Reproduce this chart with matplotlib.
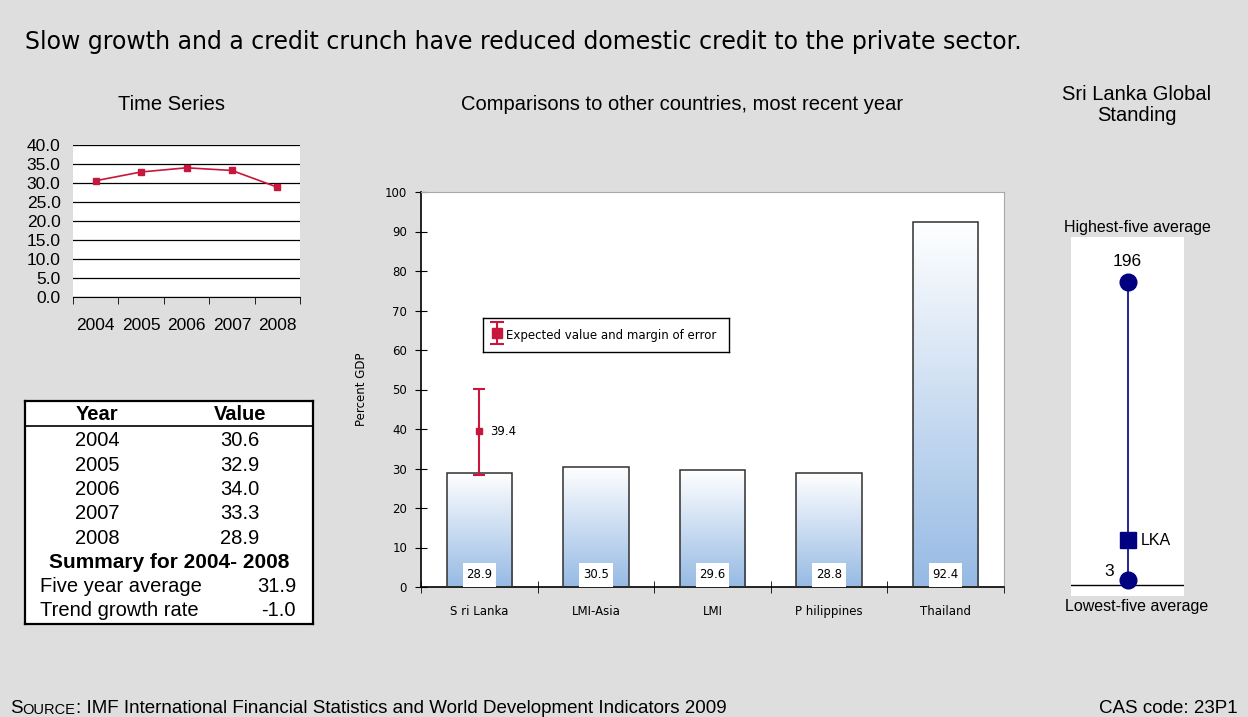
import matplotlib
matplotlib.use("Agg")
import matplotlib.pyplot as plt
import numpy as np

W, H = 1248, 717
BG = "#DEDEDE"
RED = "#C8163C"
NAVY = "#000080"
SANS = ["Liberation Sans", "DejaVu Sans"]
WIDE = ["DejaVu Sans"]

# time series
years = ["2004", "2005", "2006", "2007", "2008"]
series = [30.6, 32.9, 34.0, 33.3, 28.9]
five_year_avg = 31.9
trend_growth = -1.0

# cross-country comparison
countries = ["S ri Lanka", "LMI-Asia", "LMI", "P hilippines", "Thailand"]
country_vals = [28.9, 30.5, 29.6, 28.8, 92.4]
expected_val = 39.4
expected_low, expected_high = 28.4, 50.1

# global standing
top_five_avg = 196
bottom_five_avg = 3
lka_val = 28.9


def px(x0, y0, x1, y1):
    return [x0 / W, 1 - y1 / H, (x1 - x0) / W, (y1 - y0) / H]


fig = plt.figure(figsize=(W / 100, H / 100), dpi=100, facecolor=BG)

fig.text(25 / W, 1 - 42 / H,
         "Slow growth and a credit crunch have reduced domestic credit to the private sector.",
         fontsize=17, family=WIDE, va="center", ha="left")
fig.text(172 / W, 1 - 104 / H, "Time Series", fontsize=14.5, family=SANS, ha="center", va="center")
fig.text(682 / W, 1 - 104 / H, "Comparisons to other countries, most recent year",
         fontsize=14.5, family=SANS, ha="center", va="center")
fig.text(1137 / W, 1 - 105 / H, "Sri Lanka Global\nStanding", fontsize=14.5, family=SANS,
         ha="center", va="center", linespacing=1.1)

# --- time series panel ---
ax1 = fig.add_axes(px(73, 145, 300, 297))
xs = np.arange(len(years))
ax1.plot(xs, series, color=RED, lw=1.2, marker="s", ms=4.5)
ax1.set_xlim(-0.5, len(years) - 0.5)
ax1.set_ylim(0, 40)
yt = np.arange(0, 40.1, 5)
ax1.set_yticks(yt)
ax1.set_yticklabels([f"{v:.1f}" for v in yt], family=SANS, fontsize=12.5)
ax1.yaxis.grid(True, color="black", lw=0.9)
ax1.set_axisbelow(True)
ax1.tick_params(axis="y", length=0, pad=9)
ax1.set_xticks(xs)
ax1.set_xticklabels(years, family=SANS, fontsize=12.5)
ax1.set_xticks(np.arange(-0.5, len(years)), minor=True)
ax1.tick_params(axis="x", which="major", length=0, pad=15)
ax1.tick_params(axis="x", which="minor", length=5, color="black")
for s in ("left", "right", "top"):
    ax1.spines[s].set_visible(False)
ax1.spines["bottom"].set_color("black")

# --- summary table ---
axt = fig.add_axes(px(25, 401, 313, 624))
axt.set_xlim(25, 313)
axt.set_ylim(624, 401)
axt.set_xticks([])
axt.set_yticks([])
for s in axt.spines.values():
    s.set_linewidth(1.6)
    s.set_color("black")
axt.axhline(426, color="black", lw=1.2)
tk = dict(family=SANS, fontsize=14.5, va="center")
axt.text(97, 414, "Year", ha="center", weight="bold", **tk)
axt.text(240, 414, "Value", ha="center", weight="bold", **tk)
for i, (yr, v) in enumerate(zip(years, series)):
    y = 441 + i * 24.3
    axt.text(97, y, yr, ha="center", **tk)
    axt.text(240, y, f"{v:.1f}", ha="center", **tk)
axt.text(169, 562, f"Summary for {years[0]}- {years[-1]}", ha="center", weight="bold",
         family=SANS, fontsize=15, va="center")
axt.text(40, 587, "Five year average", ha="left", **tk)
axt.text(296, 587, f"{five_year_avg:.1f}", ha="right", **tk)
axt.text(40, 611, "Trend growth rate", ha="left", **tk)
axt.text(296, 611, f"{trend_growth:.1f}", ha="right", **tk)

# --- comparison bar chart ---
ax2 = fig.add_axes(px(421, 192, 1004, 587))
cx = np.arange(len(countries))
bw = 0.56
ax2.set_xlim(-0.5, len(countries) - 0.5)
ax2.set_ylim(0, 100)
grad = np.linspace(0, 1, 256).reshape(-1, 1)
cmap = matplotlib.colors.LinearSegmentedColormap.from_list("bar", ["#96BAE4", "#FFFFFF"])
bars = ax2.bar(cx, country_vals, width=bw, facecolor="none", edgecolor="#303030", lw=1.1, zorder=3)
lab_w, lab_h = 0.285, 6.1
for b, v in zip(bars, country_vals):
    im = ax2.imshow(grad, cmap=cmap, origin="lower", aspect="auto", zorder=2,
                    extent=[b.get_x(), b.get_x() + bw, 0, v])
    im.set_clip_path(b)
    mid = b.get_x() + bw / 2
    ax2.add_patch(plt.Rectangle((mid - lab_w / 2, 0), lab_w, lab_h, facecolor="white",
                                edgecolor="none", zorder=4))
    ax2.text(mid, lab_h / 2, f"{v:.1f}", ha="center", va="center", fontsize=8.5,
             family=WIDE, zorder=5)
err_style = dict(fmt="s", color=RED, lw=1.5, capthick=1.5)
ax2.errorbar([cx[0]], [expected_val],
             yerr=[[expected_val - expected_low], [expected_high - expected_val]],
             ms=5, capsize=4, zorder=5, **err_style)
ax2.text(cx[0] + 0.09, expected_val, f"{expected_val:.1f}", fontsize=8.5, family=WIDE,
         va="center", ha="left")
ax2.set_yticks(np.arange(0, 101, 10))
ax2.set_yticklabels([str(v) for v in range(0, 101, 10)], family=WIDE, fontsize=8.5)
ax2.set_xticks(cx)
ax2.set_xticklabels(countries, family=WIDE, fontsize=8.5)
ax2.set_xticks(np.arange(-0.5, len(countries)), minor=True)
ax2.tick_params(axis="x", which="major", length=0, pad=13)
ax2.tick_params(axis="x", which="minor", length=8, direction="inout")
ax2.tick_params(axis="y", length=8, direction="inout", pad=6)
ax2.set_ylabel("Percent GDP", family=WIDE, fontsize=8.5, labelpad=12)
for s in ("top", "right"):
    ax2.spines[s].set_color("#A8A8A8")
for s in ("left", "bottom"):
    ax2.spines[s].set_color("black")
    ax2.spines[s].set_linewidth(1.2)

# legend key box for the error bar
axl = fig.add_axes(px(483, 318, 729, 352))
axl.set_xlim(0, 246)
axl.set_ylim(34, 0)
axl.set_xticks([])
axl.set_yticks([])
axl.set_facecolor("white")
for s in axl.spines.values():
    s.set_color("black")
    s.set_linewidth(1.0)
axl.errorbar([14], [15], yerr=[[11], [11]], ms=6.5, capsize=5, **err_style)
axl.text(23, 18, "Expected value and margin of error", family=WIDE, fontsize=8.5,
         va="center", ha="left")

# --- global standing panel ---
ax3 = fig.add_axes(px(1071, 237, 1184, 596))
span = (top_five_avg - bottom_five_avg) / 298.0
ax3.set_ylim(bottom_five_avg - 16 * span, bottom_five_avg + 343 * span)
ax3.set_xlim(-1, 1)
ax3.axis("off")
ax3.add_patch(plt.Rectangle((0, 0), 1, 1, transform=ax3.transAxes, facecolor="white",
                            edgecolor="none", zorder=0))
ax3.axhline(0, color="black", lw=1.0, zorder=1)
ax3.plot([0, 0], [bottom_five_avg, top_five_avg], color=NAVY, lw=1.2, zorder=2)
ax3.plot([0, 0], [bottom_five_avg, top_five_avg], "o", color=NAVY, ms=12, zorder=3)
ax3.plot([0], [lka_val], "s", color=NAVY, ms=12, zorder=3)
ax3.text(0, top_five_avg + 13.6, str(top_five_avg), ha="center", va="center",
         family=SANS, fontsize=12.5)
ax3.text(-0.24, bottom_five_avg + 5.5, str(bottom_five_avg), ha="right", va="center",
         family=SANS, fontsize=12.5)
ax3.text(0.24, lka_val, "LKA", ha="left", va="center", family=SANS, fontsize=11.5)
fig.text(1137 / W, 1 - 228 / H, "Highest-five average", ha="center", va="center",
         family=SANS, fontsize=11.5)
fig.text(1137 / W, 1 - 607 / H, "Lowest-five average", ha="center", va="center",
         family=SANS, fontsize=11.5)

# --- footer ---
t1 = fig.text(10 / W, 1 - 713 / H, "S", family=SANS, fontsize=13.5, va="baseline", ha="left")
src = plt.annotate("OURCE", xy=(1, 0), xycoords=t1, va="bottom", ha="left",
                   family=SANS, fontsize=10.5, annotation_clip=False)
plt.annotate(": IMF International Financial Statistics and World Development Indicators 2009",
             xy=(1, 0), xycoords=src, va="bottom", ha="left",
             family=SANS, fontsize=13.5, annotation_clip=False)
fig.text(1238 / W, 1 - 713 / H, "CAS code: 23P1", family=SANS, fontsize=13.5,
         va="baseline", ha="right")

fig.savefig("out.png", dpi=100, facecolor=BG)
